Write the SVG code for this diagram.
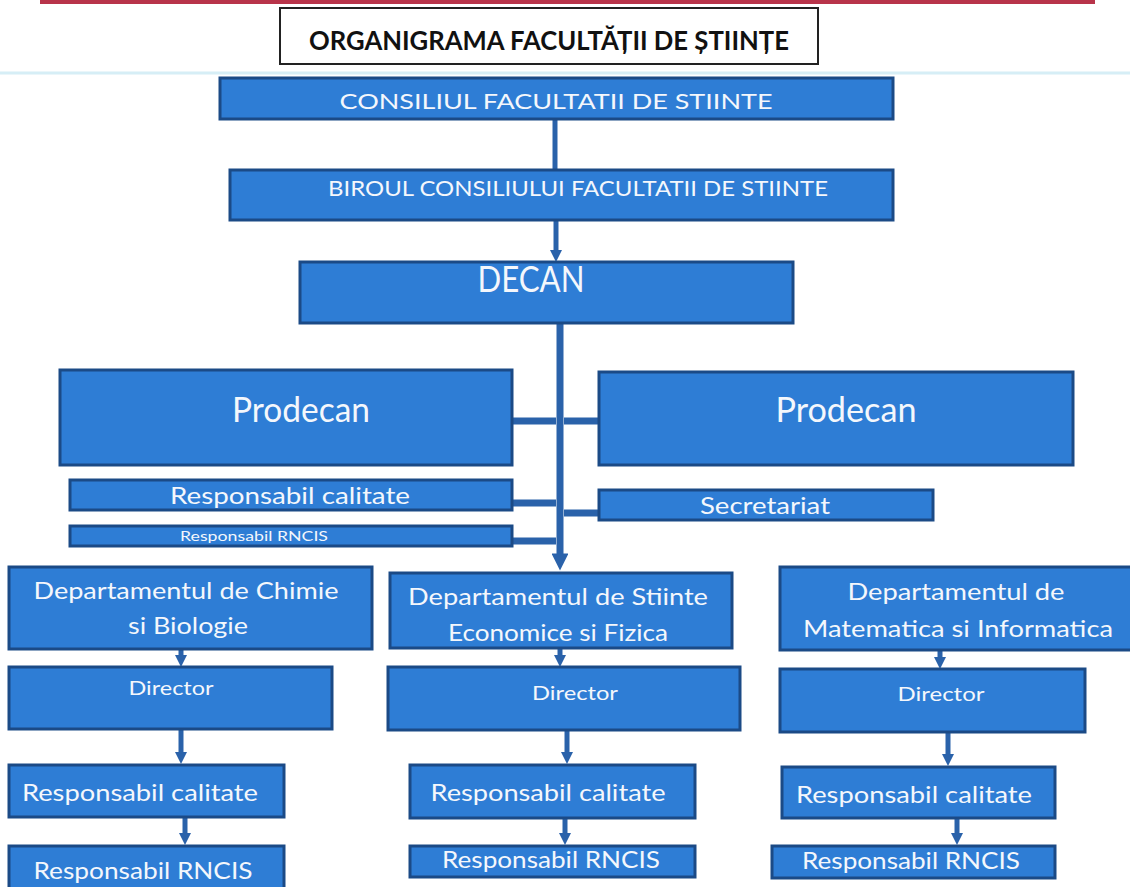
<svg xmlns="http://www.w3.org/2000/svg" width="1130" height="887" viewBox="0 0 1130 887">
<style>
.box{fill:#2e7dd5;stroke:#1b4a86;stroke-width:3}
.t{font-family:Lato,"Open Sans","Liberation Sans",sans-serif;fill:#f4f7fc;text-anchor:middle}
.c{stroke:#2a62aa;stroke-width:7;fill:none}
.cs{stroke:#2a62aa;stroke-width:5;fill:none}
</style>
<defs>
<marker id="ah" viewBox="0 0 10 10" refX="5" refY="5" markerWidth="3" markerHeight="2.4" orient="auto" markerUnits="strokeWidth">
<path d="M0,0 L10,5 L0,10 Z" fill="#2a62aa"/>
</marker>
</defs>
<rect width="1130" height="887" fill="#ffffff"/>
<line x1="40" y1="2" x2="1095" y2="2" stroke="#b8344a" stroke-width="4"/>
<line x1="0" y1="73" x2="1130" y2="73" stroke="#d6eef6" stroke-width="3"/>
<g id="title">
<rect x="280" y="8" width="538" height="56" fill="#ffffff" stroke="#222222" stroke-width="2"/>
<text x="549" y="50" font-family="Lato,'Open Sans','Liberation Sans',sans-serif" font-weight="bold" font-size="27" fill="#111111" text-anchor="middle" textLength="480" lengthAdjust="spacingAndGlyphs">ORGANIGRAMA FACULTĂȚII DE ȘTIINȚE</text>
</g>
<g id="connectors">
<line class="cs" x1="555" y1="119" x2="555" y2="170"/>
<line class="cs" x1="556" y1="220" x2="556" y2="256" marker-end="url(#ah)"/>
<line class="c" x1="560" y1="323" x2="560" y2="562" stroke-width="10" marker-end="url(#ah)"/>
<line class="c" x1="512" y1="421" x2="556" y2="421"/>
<line class="c" x1="564" y1="421" x2="599" y2="421"/>
<line class="c" x1="512" y1="503" x2="556" y2="503"/>
<line class="c" x1="512" y1="541" x2="556" y2="541"/>
<line class="c" x1="564" y1="513" x2="599" y2="513"/>
<line class="cs" x1="181" y1="650" x2="181" y2="661" marker-end="url(#ah)"/>
<line class="cs" x1="181" y1="730" x2="181" y2="758" marker-end="url(#ah)"/>
<line class="cs" x1="185" y1="817" x2="185" y2="839" marker-end="url(#ah)"/>
<line class="cs" x1="560" y1="648" x2="560" y2="661" marker-end="url(#ah)"/>
<line class="cs" x1="567" y1="730" x2="567" y2="758" marker-end="url(#ah)"/>
<line class="cs" x1="565" y1="818" x2="565" y2="839" marker-end="url(#ah)"/>
<line class="cs" x1="940" y1="650" x2="940" y2="663" marker-end="url(#ah)"/>
<line class="cs" x1="948" y1="732" x2="948" y2="760" marker-end="url(#ah)"/>
<line class="cs" x1="957" y1="818" x2="957" y2="839" marker-end="url(#ah)"/>
</g>
<g id="consiliul">
<rect class="box" x="220" y="78" width="673" height="41"/>
<text class="t" x="556" y="109" font-size="22" textLength="433" lengthAdjust="spacingAndGlyphs">CONSILIUL FACULTATII DE STIINTE</text>
</g>
<g id="biroul">
<rect class="box" x="230" y="170" width="663" height="50"/>
<text class="t" x="578" y="196" font-size="22" textLength="500" lengthAdjust="spacingAndGlyphs">BIROUL CONSILIULUI FACULTATII DE STIINTE</text>
</g>
<g id="decan">
<rect class="box" x="300" y="262" width="493" height="61"/>
<text class="t" x="531" y="292" font-size="36" textLength="107" lengthAdjust="spacingAndGlyphs">DECAN</text>
</g>
<g id="prodecan-stanga">
<rect class="box" x="60" y="370" width="452" height="95"/>
<text class="t" x="301" y="422" font-size="34" textLength="138" lengthAdjust="spacingAndGlyphs">Prodecan</text>
</g>
<g id="prodecan-dreapta">
<rect class="box" x="599" y="372" width="474" height="93"/>
<text class="t" x="846" y="422" font-size="34" textLength="141" lengthAdjust="spacingAndGlyphs">Prodecan</text>
</g>
<g id="responsabil-calitate">
<rect class="box" x="70" y="480" width="442" height="30"/>
<text class="t" x="290" y="504" font-size="23" textLength="240" lengthAdjust="spacingAndGlyphs">Responsabil calitate</text>
</g>
<g id="responsabil-rncis">
<rect class="box" x="70" y="526" width="442" height="20"/>
<text class="t" x="254" y="541" font-size="13" textLength="148" lengthAdjust="spacingAndGlyphs">Responsabil RNCIS</text>
</g>
<g id="secretariat">
<rect class="box" x="599" y="490" width="334" height="30"/>
<text class="t" x="765" y="514" font-size="23" textLength="130" lengthAdjust="spacingAndGlyphs">Secretariat</text>
</g>
<g id="dept-chimie">
<rect class="box" x="9" y="567" width="363" height="82"/>
<text class="t" x="186" y="599" font-size="24" textLength="305" lengthAdjust="spacingAndGlyphs">Departamentul de Chimie</text>
<text class="t" x="188" y="634" font-size="24" textLength="120" lengthAdjust="spacingAndGlyphs">si Biologie</text>
</g>
<g id="director-chimie">
<rect class="box" x="9" y="667" width="323" height="62"/>
<text class="t" x="171" y="695" font-size="19" textLength="85" lengthAdjust="spacingAndGlyphs">Director</text>
</g>
<g id="calitate-chimie">
<rect class="box" x="9" y="765" width="275" height="52"/>
<text class="t" x="140" y="801" font-size="24" textLength="236" lengthAdjust="spacingAndGlyphs">Responsabil calitate</text>
</g>
<g id="rncis-chimie">
<rect class="box" x="9" y="846" width="275" height="43"/>
<text class="t" x="143" y="879" font-size="24" textLength="219" lengthAdjust="spacingAndGlyphs">Responsabil RNCIS</text>
</g>
<g id="dept-economice">
<rect class="box" x="390" y="573" width="342" height="75"/>
<text class="t" x="558" y="605" font-size="24" textLength="300" lengthAdjust="spacingAndGlyphs">Departamentul de Stiinte</text>
<text class="t" x="558" y="641" font-size="24" textLength="220" lengthAdjust="spacingAndGlyphs">Economice si Fizica</text>
</g>
<g id="director-economice">
<rect class="box" x="388" y="667" width="352" height="63"/>
<text class="t" x="575" y="700" font-size="19" textLength="86" lengthAdjust="spacingAndGlyphs">Director</text>
</g>
<g id="calitate-economice">
<rect class="box" x="410" y="765" width="285" height="53"/>
<text class="t" x="548" y="801" font-size="24" textLength="235" lengthAdjust="spacingAndGlyphs">Responsabil calitate</text>
</g>
<g id="rncis-economice">
<rect class="box" x="410" y="846" width="285" height="31"/>
<text class="t" x="551" y="868" font-size="24" textLength="218" lengthAdjust="spacingAndGlyphs">Responsabil RNCIS</text>
</g>
<g id="dept-matematica">
<rect class="box" x="780" y="567" width="352" height="83"/>
<text class="t" x="956" y="600" font-size="24" textLength="217" lengthAdjust="spacingAndGlyphs">Departamentul de</text>
<text class="t" x="958" y="637" font-size="24" textLength="310" lengthAdjust="spacingAndGlyphs">Matematica si Informatica</text>
</g>
<g id="director-matematica">
<rect class="box" x="780" y="669" width="305" height="63"/>
<text class="t" x="941" y="701" font-size="19" textLength="87" lengthAdjust="spacingAndGlyphs">Director</text>
</g>
<g id="calitate-matematica">
<rect class="box" x="782" y="767" width="273" height="51"/>
<text class="t" x="914" y="803" font-size="24" textLength="236" lengthAdjust="spacingAndGlyphs">Responsabil calitate</text>
</g>
<g id="rncis-matematica">
<rect class="box" x="772" y="846" width="283" height="32"/>
<text class="t" x="911" y="869" font-size="24" textLength="218" lengthAdjust="spacingAndGlyphs">Responsabil RNCIS</text>
</g>
</svg>
